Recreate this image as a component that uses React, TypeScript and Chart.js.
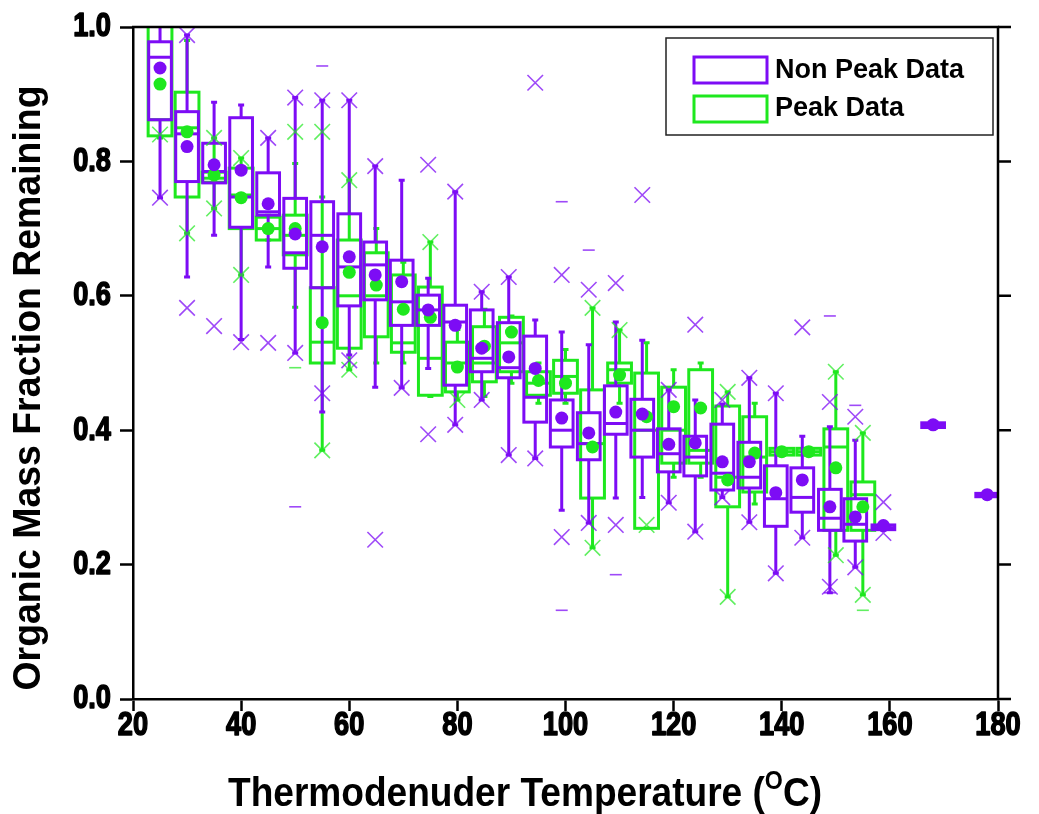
import React, { useEffect, useRef } from "react";
import { Chart, registerables } from "chart.js";
Chart.register(...registerables);

// ---------------- DATA ----------------
const xTickValues = [20, 40, 60, 80, 100, 120, 140, 160, 180];
const yTickValues = [0, 0.2, 0.4, 0.6, 0.8, 1.0];

const seriesNames = ["Non Peak Data", "Peak Data"];

// Non Peak Data (purple)
const pTemp = [25, 30, 35, 40, 45, 50, 55, 60, 64.8, 69.7, 74.6, 79.6, 84.5, 89.5, 94.4, 99.3, 104.3, 109.3, 114.2, 119.1, 124, 129, 134, 138.9, 143.8, 148.9, 153.6, 158.8, 168, 178];
const pQ1 = [0.862, 0.770, 0.768, 0.702, 0.720, 0.641, 0.612, 0.585, 0.594, 0.556, 0.556, 0.467, 0.487, 0.478, 0.412, 0.375, 0.356, 0.394, 0.360, 0.338, 0.332, 0.311, 0.314, 0.257, 0.278, 0.251, 0.235, 0.252, 0.404, 0.301];
const pMed = [0.955, 0.841, 0.785, 0.747, 0.725, 0.664, 0.690, 0.643, 0.646, 0.591, 0.579, 0.561, 0.507, 0.493, 0.449, 0.400, 0.380, 0.410, 0.400, 0.365, 0.360, 0.336, 0.330, 0.298, 0.300, 0.269, 0.260, 0.255, 0.408, 0.304];
const pQ3 = [0.978, 0.874, 0.827, 0.865, 0.783, 0.745, 0.740, 0.722, 0.680, 0.653, 0.601, 0.586, 0.579, 0.560, 0.540, 0.445, 0.426, 0.466, 0.446, 0.402, 0.391, 0.409, 0.382, 0.347, 0.344, 0.312, 0.298, 0.259, 0.411, 0.306];
const pWLo = [0.746, 0.628, 0.690, 0.535, 0.643, 0.515, 0.427, 0.512, 0.464, 0.463, 0.492, 0.408, 0.445, 0.363, 0.358, 0.281, 0.262, 0.299, 0.300, 0.292, 0.249, 0.300, 0.263, 0.187, 0.240, 0.158, 0.196, 0.252, 0.404, 0.301];
const pWHi = [1.05, 0.988, 0.888, 0.884, 0.835, 0.895, 0.891, 0.891, 0.793, 0.772, 0.626, 0.755, 0.606, 0.628, 0.564, 0.546, 0.527, 0.561, 0.534, 0.460, 0.445, 0.439, 0.478, 0.455, 0.391, 0.405, 0.385, 0.259, 0.411, 0.306];
const pMean = [0.939, 0.822, 0.795, 0.787, 0.737, 0.692, 0.673, 0.658, 0.631, 0.621, 0.579, 0.556, 0.522, 0.509, 0.492, 0.418, 0.396, 0.427, 0.424, 0.379, 0.381, 0.353, 0.353, 0.307, 0.326, 0.286, 0.271, 0.258, 0.408, 0.304];
const pXLo = [0.746, 0.582, 0.555, 0.531, 0.530, 0.515, 0.455, 0.504, 0.237, 0.463, 0.394, 0.408, 0.445, 0.363, 0.358, 0.241, 0.262, 0.259, null, 0.292, 0.249, 0.300, 0.263, 0.187, 0.240, 0.167, 0.196, 0.247, null, null];
const pXHi = [null, 0.988, null, null, 0.835, 0.895, 0.891, 0.891, 0.793, null, 0.795, 0.755, 0.606, 0.628, 0.917, 0.631, 0.609, 0.619, 0.750, 0.460, 0.557, 0.445, 0.478, 0.455, 0.553, 0.442, 0.420, 0.293, null, null];
const pDMin = [null, null, null, null, null, 0.286, null, null, null, null, null, null, null, null, null, 0.132, null, 0.185, null, null, null, null, null, null, null, 0.158, null, null, null, null];
const pDMax = [null, null, null, null, null, null, 0.942, null, null, null, null, null, null, null, null, 0.740, 0.668, null, null, null, null, null, null, null, null, 0.570, 0.437, null, null, null];

// Peak Data (green)
const gTemp = [25, 30, 35, 40, 45, 50, 55, 60, 65, 70, 75, 80, 85, 90, 95, 100, 105, 110, 115, 120, 125, 130, 135, 140, 145, 150, 155];
const gQ1 = [0.838, 0.747, 0.769, 0.700, 0.683, 0.661, 0.500, 0.522, 0.539, 0.516, 0.452, 0.457, 0.472, 0.487, 0.452, 0.455, 0.299, 0.470, 0.254, 0.351, 0.351, 0.286, 0.308, 0.363, 0.363, 0.251, 0.251];
const gMed = [0.862, 0.850, 0.775, 0.750, 0.700, 0.690, 0.531, 0.600, 0.600, 0.530, 0.507, 0.500, 0.500, 0.530, 0.470, 0.480, 0.380, 0.490, 0.400, 0.400, 0.370, 0.330, 0.360, 0.368, 0.368, 0.375, 0.304];
const gQ3 = [1.05, 0.903, 0.784, 0.790, 0.717, 0.720, 0.612, 0.683, 0.664, 0.631, 0.613, 0.531, 0.554, 0.568, 0.487, 0.504, 0.460, 0.500, 0.485, 0.464, 0.490, 0.436, 0.420, 0.373, 0.373, 0.402, 0.323];
const gWLo = [0.835, 0.693, 0.730, 0.631, 0.683, 0.583, 0.370, 0.490, 0.500, 0.500, 0.450, 0.445, 0.450, 0.470, 0.440, 0.440, 0.225, 0.440, 0.254, 0.330, 0.330, 0.152, 0.290, 0.363, 0.363, 0.214, 0.155];
const gWHi = [1.1, 0.98, 0.835, 0.805, 0.720, 0.797, 0.747, 0.772, 0.700, 0.650, 0.680, 0.550, 0.580, 0.570, 0.500, 0.520, 0.582, 0.549, 0.530, 0.490, 0.500, 0.457, 0.440, 0.373, 0.373, 0.487, 0.396];
const gMean = [0.915, 0.844, 0.780, 0.746, 0.700, 0.700, 0.560, 0.635, 0.616, 0.580, 0.568, 0.494, 0.525, 0.546, 0.474, 0.470, 0.375, 0.482, 0.420, 0.435, 0.433, 0.326, 0.366, 0.368, 0.368, 0.344, 0.286];
const gXLo = [0.840, 0.693, 0.730, 0.631, null, null, 0.370, 0.490, null, null, null, 0.445, null, null, null, null, 0.225, null, 0.259, null, null, 0.152, null, null, null, 0.214, 0.155];
const gXHi = [null, null, 0.835, 0.805, null, 0.844, 0.844, 0.772, null, null, 0.680, null, null, null, null, null, 0.582, 0.549, null, null, null, 0.457, null, null, null, 0.487, 0.396];
const gDMin = [null, null, null, null, null, 0.493, null, null, null, null, null, null, null, null, null, null, null, null, null, null, null, null, null, null, null, null, 0.132];

// ---------------- STYLE ----------------
const PURPLE = "#7d0cf5";
const GREEN = "#1ee81e";
const PURPLE_X = "rgba(125,12,245,0.75)";
const GREEN_X = "rgba(30,232,30,0.7)";
const TITLE_FONT = "'Liberation Sans',Arial,sans-serif";

const toPts = (xs: number[], ys: (number | null)[]) =>
  xs.map((x, i) => (ys[i] == null ? null : { x, y: ys[i] as number })).filter(Boolean) as { x: number; y: number }[];

function drawBoxSeries(chart: any, xs: number[], q1: number[], med: number[], q3: number[], wlo: number[], whi: number[], color: string, halfW: number) {
  const { ctx, chartArea, scales } = chart;
  const sx = scales.x, sy = scales.y;
  ctx.save();
  ctx.beginPath();
  ctx.rect(chartArea.left, chartArea.top, chartArea.right - chartArea.left, chartArea.bottom - chartArea.top);
  ctx.clip();
  ctx.strokeStyle = color;
  ctx.lineWidth = 3;
  ctx.lineCap = "butt";
  for (let i = 0; i < xs.length; i++) {
    const px = sx.getPixelForValue(xs[i]);
    const l = sx.getPixelForValue(xs[i] - halfW);
    const r = sx.getPixelForValue(xs[i] + halfW);
    const y1 = sy.getPixelForValue(q1[i]);
    const y3 = sy.getPixelForValue(q3[i]);
    const ym = sy.getPixelForValue(med[i]);
    const yl = sy.getPixelForValue(wlo[i]);
    const yh = sy.getPixelForValue(whi[i]);
    ctx.beginPath();
    ctx.moveTo(px, y3); ctx.lineTo(px, yh);
    ctx.moveTo(px, y1); ctx.lineTo(px, yl);
    ctx.moveTo(px - 3, yh); ctx.lineTo(px + 3, yh);
    ctx.moveTo(px - 3, yl); ctx.lineTo(px + 3, yl);
    ctx.stroke();
    ctx.strokeRect(l, y3, r - l, y1 - y3);
    ctx.beginPath();
    ctx.moveTo(l, ym); ctx.lineTo(r, ym);
    ctx.stroke();
  }
  ctx.restore();
}

// condensed bold text helper
function narrowText(ctx: CanvasRenderingContext2D, text: string, x: number, y: number, size: number, squeeze: number, align: "left" | "center" | "right") {
  ctx.save();
  ctx.font = `bold ${size}px ${TITLE_FONT}`;
  const w = ctx.measureText(text).width * squeeze;
  let x0 = x;
  if (align === "center") x0 = x - w / 2;
  else if (align === "right") x0 = x - w;
  ctx.translate(x0, y);
  ctx.scale(squeeze, 1);
  ctx.textAlign = "left";
  ctx.textBaseline = "middle";
  ctx.fillStyle = "#000";
  ctx.strokeStyle = "#000";
  ctx.lineWidth = 1.6;
  ctx.lineJoin = "round";
  ctx.fillText(text, 0, 0);
  ctx.strokeText(text, 0, 0);
  ctx.restore();
}

const boxPlugin = {
  id: "boxPlot",
  beforeDatasetsDraw(chart: any) {
    drawBoxSeries(chart, gTemp, gQ1, gMed, gQ3, gWLo, gWHi, GREEN, 2.2);
    drawBoxSeries(chart, pTemp, pQ1, pMed, pQ3, pWLo, pWHi, PURPLE, 2.1);
  },
  afterDraw(chart: any) {
    const { ctx, chartArea, scales } = chart;
    const { left, right, top, bottom } = chartArea;
    ctx.save();
    // frame top and right
    ctx.strokeStyle = "#000";
    ctx.lineWidth = 2.5;
    ctx.beginPath();
    ctx.moveTo(left - 1, top); ctx.lineTo(right, top); ctx.lineTo(right, bottom);
    ctx.stroke();
    // right ticks
    ctx.beginPath();
    yTickValues.forEach((v) => {
      const y = scales.y.getPixelForValue(v);
      ctx.moveTo(right, y); ctx.lineTo(right + 13, y);
    });
    ctx.stroke();

    // tick labels (condensed bold)
    yTickValues.forEach((v) => {
      const y = scales.y.getPixelForValue(v);
      narrowText(ctx, v.toFixed(1), left - 22, y, 34, 0.8, "right");
    });
    xTickValues.forEach((v) => {
      const x = scales.x.getPixelForValue(v);
      narrowText(ctx, String(v), x, bottom + 27, 34, 0.8, "center");
    });

    // y title
    ctx.fillStyle = "#000";
    ctx.font = `bold 38px ${TITLE_FONT}`;
    const yt = "Organic Mass Fraction Remaining";
    const yw = ctx.measureText(yt).width;
    ctx.save();
    ctx.translate(30, 388);
    ctx.rotate(-Math.PI / 2);
    ctx.scale(605 / yw, 1);
    ctx.textAlign = "center";
    ctx.textBaseline = "middle";
    ctx.fillText(yt, 0, 0);
    ctx.restore();

    // x title with superscript
    const p1 = "Thermodenuder Temperature (";
    const sup = "O";
    const p3 = "C)";
    ctx.font = `bold 40px ${TITLE_FONT}`;
    const w1 = ctx.measureText(p1).width;
    const w3 = ctx.measureText(p3).width;
    ctx.font = `bold 25px ${TITLE_FONT}`;
    const w2 = ctx.measureText(sup).width;
    const tw = w1 + w2 + w3;
    ctx.save();
    ctx.translate(525, 806);
    ctx.scale(594 / tw, 1);
    ctx.textBaseline = "alphabetic";
    ctx.textAlign = "left";
    let cx = -tw / 2;
    ctx.font = `bold 40px ${TITLE_FONT}`;
    ctx.fillText(p1, cx, 0);
    cx += w1;
    ctx.font = `bold 25px ${TITLE_FONT}`;
    ctx.fillText(sup, cx, -17);
    cx += w2;
    ctx.font = `bold 40px ${TITLE_FONT}`;
    ctx.fillText(p3, cx, 0);
    ctx.restore();

    // legend
    ctx.lineWidth = 1.5;
    ctx.strokeStyle = "#222";
    ctx.strokeRect(666, 38, 327, 97);
    ctx.lineWidth = 3;
    ctx.strokeStyle = PURPLE;
    ctx.strokeRect(694, 57, 73, 26);
    ctx.strokeStyle = GREEN;
    ctx.strokeRect(694, 96, 73, 26);
    ctx.fillStyle = "#000";
    ctx.font = `bold 27px ${TITLE_FONT}`;
    ctx.textAlign = "left";
    ctx.textBaseline = "middle";
    ctx.fillText(seriesNames[0], 775, 71);
    ctx.fillText(seriesNames[1], 775, 109);
    ctx.restore();
  },
};

export default function App() {
  const ref = useRef<HTMLCanvasElement>(null);
  useEffect(() => {
    document.body.style.margin = "0";
    const canvas = ref.current!;
    const chart = new Chart(canvas, {
      type: "scatter",
      data: {
        datasets: [
          {
            label: "Non Peak mean",
            data: toPts(pTemp, pMean),
            pointStyle: "circle",
            pointRadius: 6.5,
            backgroundColor: PURPLE,
            borderWidth: 0,
            order: 0,
          },
          {
            label: "Peak mean",
            data: toPts(gTemp, gMean),
            pointStyle: "circle",
            pointRadius: 6.5,
            backgroundColor: GREEN,
            borderWidth: 0,
            order: 1,
          },
          {
            label: "Non Peak 1/99",
            data: [...toPts(pTemp, pXLo), ...toPts(pTemp, pXHi)],
            pointStyle: "crossRot",
            pointRadius: 11,
            borderColor: PURPLE_X,
            backgroundColor: PURPLE_X,
            borderWidth: 1.6,
            order: 2,
          },
          {
            label: "Peak 1/99",
            data: [...toPts(gTemp, gXLo), ...toPts(gTemp, gXHi)],
            pointStyle: "crossRot",
            pointRadius: 11,
            borderColor: GREEN_X,
            backgroundColor: GREEN_X,
            borderWidth: 1.6,
            order: 3,
          },
          {
            label: "Non Peak min/max",
            data: [...toPts(pTemp, pDMin), ...toPts(pTemp, pDMax)],
            pointStyle: "line",
            pointRadius: 6,
            borderColor: PURPLE_X,
            borderWidth: 1.6,
            order: 4,
          },
          {
            label: "Peak min/max",
            data: toPts(gTemp, gDMin),
            pointStyle: "line",
            pointRadius: 6,
            borderColor: GREEN_X,
            borderWidth: 1.6,
            order: 5,
          },
        ],
      },
      options: {
        animation: false,
        responsive: false,
        devicePixelRatio: 1,
        layout: { padding: { top: 27, right: 41, left: 0, bottom: 0 } },
        plugins: { legend: { display: false }, tooltip: { enabled: false } },
        scales: {
          x: {
            type: "linear",
            min: 20,
            max: 180,
            afterBuildTicks: (s: any) => { s.ticks = xTickValues.map((v) => ({ value: v })); },
            afterFit: (s: any) => { s.height = 115; },
            ticks: { display: false },
            grid: { drawOnChartArea: false, drawTicks: true, tickLength: 12, tickWidth: 2.5, tickColor: "#000" },
            border: { display: true, color: "#000", width: 2.5 },
          },
          y: {
            type: "linear",
            min: 0,
            max: 1,
            afterBuildTicks: (s: any) => { s.ticks = yTickValues.map((v) => ({ value: v })); },
            afterFit: (s: any) => { s.width = 133; },
            ticks: { display: false },
            grid: { drawOnChartArea: false, drawTicks: true, tickLength: 13, tickWidth: 2.5, tickColor: "#000" },
            border: { display: true, color: "#000", width: 2.5 },
          },
        },
      },
      plugins: [boxPlugin],
    });
    return () => chart.destroy();
  }, []);
  return (
    <div style={{ position: "absolute", left: 0, top: 0, width: 1039, height: 814, background: "#fff" }}>
      <canvas ref={ref} width={1039} height={814} style={{ width: 1039, height: 814, display: "block" }} />
    </div>
  );
}
